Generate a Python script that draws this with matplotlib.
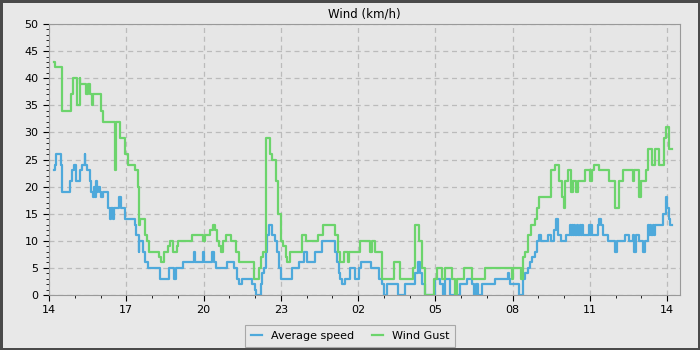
"""Wind speed and gust over 24 hours."""

import matplotlib

matplotlib.use("Agg")
import matplotlib.pyplot as plt
from matplotlib.ticker import MultipleLocator

# hours after 14:00, value holds until the next entry
avg_hours = [
    0.19, 0.24, 0.28, 0.45, 0.50, 0.80, 0.89, 0.97, 1.06, 1.22, 1.29, 1.39, 1.41,
    1.49, 1.58, 1.64, 1.71, 1.75, 1.79, 1.83, 1.86, 1.92, 1.98, 2.03, 2.10, 2.29,
    2.37, 2.41, 2.49, 2.52, 2.71, 2.81, 2.96, 3.35, 3.38, 3.48, 3.51, 3.64, 3.74,
    3.83, 4.31, 4.67, 4.87, 4.93, 5.19, 5.64, 5.68, 5.97, 6.02, 6.33, 6.42, 6.49,
    6.92, 7.18, 7.29, 7.38, 7.51, 7.90, 7.99, 8.03, 8.22, 8.28, 8.35, 8.42, 8.48,
    8.54, 8.67, 8.77, 8.87, 8.93, 9.00, 9.45, 9.71, 9.90, 10.01, 10.32, 10.60,
    11.09, 11.18, 11.25, 11.31, 11.38, 11.51, 11.70, 11.90, 12.03, 12.13, 12.52,
    12.80, 12.93, 13.00, 13.13, 13.57, 13.83, 14.21, 14.34, 14.41, 14.47, 14.60,
    14.99, 15.18, 15.29, 15.38, 15.57, 15.96, 16.22, 16.41, 16.50, 16.58, 16.66,
    16.80, 17.32, 17.81, 17.86, 17.90, 18.24, 18.41, 18.50, 18.58, 18.67, 18.76,
    18.86, 18.96, 19.02, 19.12, 19.38, 19.51, 19.61, 19.70, 19.77, 19.87, 20.09,
    20.22, 20.25, 20.29, 20.33, 20.39, 20.43, 20.49, 20.54, 20.60, 20.64, 20.70,
    20.74, 20.96, 21.00, 21.05, 21.09, 21.31, 21.37, 21.43, 21.50, 21.70, 21.99,
    22.04, 22.35, 22.51, 22.67, 22.73, 22.80, 22.92, 23.06, 23.15, 23.25, 23.29,
    23.34, 23.38, 23.44, 23.48, 23.54, 23.83, 23.94, 23.99, 24.07, 24.12, 24.19,
]
avg_speed = [
    23, 24, 26, 24, 19, 21, 23, 24, 21, 23, 24, 26, 24,
    23, 21, 19, 18, 20, 18, 21, 19, 20, 19, 18, 19, 16,
    14, 16, 14, 16, 18, 16, 14, 13, 11, 8, 10, 8, 6,
    5, 3, 5, 3, 5, 6, 8, 6, 8, 6, 8, 6, 5,
    6, 5, 3, 2, 3, 2, 1, 0, 2, 4, 5, 8, 11,
    13, 11, 10, 8, 5, 3, 5, 6, 8, 6, 8, 10,
    8, 6, 4, 3, 2, 3, 5, 3, 5, 6, 5,
    3, 2, 0, 2, 0, 2, 4, 6, 4, 2, 0,
    3, 2, 0, 3, 0, 2, 3, 2, 0, 2, 0,
    2, 3, 4, 3, 2, 0, 3, 4, 5, 6, 7,
    8, 10, 11, 10, 11, 10, 12, 14, 11, 10, 11,
    13, 11, 13, 11, 13, 11, 13, 11, 13, 11, 13,
    11, 13, 11, 13, 11, 13, 14, 13, 11, 10, 8,
    10, 11, 10, 11, 8, 11, 10, 8, 10, 13, 11,
    13, 11, 13, 11, 13, 15, 18, 16, 14, 13, 13,
]

gust_hours = [
    0.19, 0.24, 0.50, 0.84, 0.93, 1.10, 1.19, 1.22, 1.45, 1.53, 1.59, 1.68, 1.71,
    2.03, 2.10, 2.55, 2.61, 2.75, 2.94, 3.07, 3.23, 3.35, 3.44, 3.51, 3.53, 3.74,
    3.81, 3.87, 4.28, 4.35, 4.48, 4.63, 4.70, 4.80, 4.96, 5.02, 5.55, 5.97, 6.07,
    6.25, 6.36, 6.43, 6.51, 6.59, 6.68, 6.77, 6.86, 7.05, 7.25, 7.38, 7.96, 8.16,
    8.24, 8.32, 8.42, 8.58, 8.67, 8.80, 8.89, 9.02, 9.10, 9.19, 9.25, 9.36, 9.84,
    9.97, 10.45, 10.63, 11.12, 11.22, 11.31, 11.44, 11.61, 11.66, 12.09, 12.48,
    12.54, 12.67, 12.93, 13.39, 13.64, 14.15, 14.21, 14.38, 14.47, 14.60, 14.93,
    15.06, 15.25, 15.38, 15.64, 15.77, 15.83, 16.12, 16.41, 16.93, 17.97, 18.02,
    18.32, 18.41, 18.47, 18.58, 18.73, 18.86, 18.93, 19.02, 19.51, 19.64, 19.80,
    19.90, 20.00, 20.05, 20.16, 20.28, 20.36, 20.47, 20.53, 20.83, 20.99, 21.09,
    21.18, 21.35, 21.76, 21.99, 22.15, 22.28, 22.68, 22.73, 22.92, 22.99, 23.18,
    23.25, 23.42, 23.51, 23.68, 23.86, 23.94, 24.07, 24.19,
]
gust_speed = [
    43, 42, 34, 37, 40, 35, 40, 39, 37, 39, 37, 35, 37,
    34, 32, 23, 32, 29, 26, 24, 24, 23, 20, 13, 14, 11,
    10, 8, 7, 6, 8, 9, 10, 8, 9, 10, 11, 10, 11,
    12, 13, 12, 10, 9, 8, 10, 11, 10, 8, 6, 3, 5,
    7, 8, 29, 26, 25, 21, 15, 10, 9, 7, 6, 8, 11,
    10, 11, 13, 11, 8, 6, 8, 6, 8, 10, 8,
    10, 8, 3, 6, 3, 5, 13, 10, 5, 0, 3,
    5, 3, 5, 3, 0, 3, 5, 3, 5, 3, 5,
    3, 7, 8, 11, 13, 14, 16, 18, 23, 24, 21,
    18, 16, 21, 23, 19, 21, 19, 21, 23, 21, 23,
    24, 23, 21, 16, 21, 23, 21, 23, 18, 21, 23,
    27, 24, 27, 24, 29, 31, 27, 27,
]

tick_hours = [0, 3, 6, 9, 12, 15, 18, 21, 24]
tick_labels = ["14", "17", "20", "23", "02", "05", "08", "11", "14"]

BG = "#e8e8e8"

fig = plt.figure(figsize=(7, 3.5), dpi=100, facecolor=BG)
fig.patch.set_edgecolor("#4a4a4a")
fig.patch.set_linewidth(2.5)
ax = fig.add_axes([49 / 700, 55 / 350, 631 / 700, 271 / 350])
ax.set_facecolor("#e6e6e6")

ax.step(avg_hours, avg_speed, where="post", color="#4ea9db", linewidth=1.6,
        label="Average speed")
ax.step(gust_hours, gust_speed, where="post", color="#6cd46c", linewidth=1.6,
        label="Wind Gust")

ax.set_xlim(0, 24.5)
ax.set_ylim(0, 50)
ax.set_xticks(tick_hours)
ax.set_xticklabels(tick_labels)
ax.xaxis.set_minor_locator(MultipleLocator(1))
ax.yaxis.set_major_locator(MultipleLocator(5))
ax.yaxis.set_minor_locator(MultipleLocator(1))
ax.tick_params(which="major", length=4, labelsize=8, colors="black")
ax.tick_params(which="minor", length=2)
ax.grid(True, which="major", linestyle=(0, (4, 3)), color="#bbbbbb", linewidth=0.9)
for side in ax.spines.values():
    side.set_color("#999999")
ax.set_title("Wind (km/h)", fontsize=8.5, pad=5)

leg = fig.legend(loc="center", bbox_to_anchor=(0.5, 1 - 336 / 350), ncol=2,
                 fontsize=8, handlelength=1.0, frameon=True, fancybox=False,
                 borderpad=0.5, columnspacing=1.6)
leg.get_frame().set_edgecolor("#999999")
leg.get_frame().set_facecolor(BG)
leg.get_frame().set_linewidth(0.8)

fig.savefig("out.png", dpi=100, facecolor=BG, edgecolor=fig.get_edgecolor())
plt.close(fig)
